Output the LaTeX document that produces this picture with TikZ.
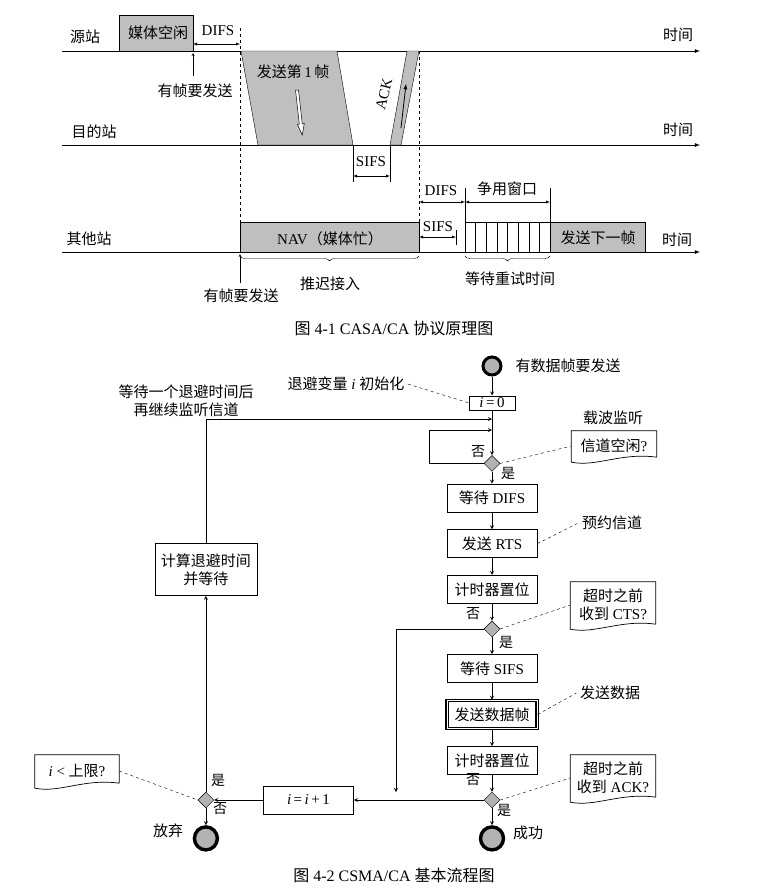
\documentclass[tikz,border=0pt]{standalone}
\usepackage{fontspec}
\setmainfont{Liberation Serif}
\newfontfamily\cjk{Noto Sans CJK SC}
\usepackage{tikz}
\usetikzlibrary{arrows, calc, positioning, shapes, decorations.pathreplacing}

\tikzset{
  axis/.style={-latex, line width=0.8pt},
  busy/.style={draw, fill=black!25},
  span/.style={latex-latex, thin},
  guide/.style={dashed, thin},
  brc/.style={decorate, decoration={brace, mirror, amplitude=5pt}, thin},
  stepbox/.style={draw, line width=0.7pt, minimum width=90pt, minimum height=28pt, inner sep=2pt},
  test/.style={diamond, draw, fill=black!30, minimum size=16pt, inner sep=0pt},
  terminal/.style={circle, draw, line width=3.4pt, fill=black!30, minimum size=23pt, inner sep=0pt},
  memo/.style={minimum width=85pt, align=center, inner sep=2pt},
  tag/.style={font=\fontsize{14}{16}\selectfont\cjk},
  zh/.style={font=\fontsize{15}{18}\selectfont\cjk},
}

% note box with a wavy lower edge
\newcommand{\wavenote}[1]{%
  \draw[line width=0.7pt] ($(#1.south east)+(0pt,4pt)$) -- (#1.north east) -- (#1.north west)
    -- ($(#1.south west)+(0pt,-1pt)$)
    .. controls ($(#1.south west)+(25pt,-6pt)$) and ($(#1.south east)+(-35pt,9pt)$)
    .. ($(#1.south east)+(0pt,4pt)$);}

\begin{document}
\begin{tikzpicture}[x=1pt, y=-1pt, >=stealth, node distance=17pt,
    font=\fontsize{15}{18}\selectfont]
\useasboundingbox (0,0) rectangle (759,892);

% ---- Fig 4-1: timing
\draw[axis] (62,51) -- (700,51);
\draw[axis] (62,145) -- (700,145);
\draw[axis] (62,252) -- (700,252);
\node[zh] (src) at (85,37) {源站};
\node[zh] (dst) at (94,132) {目的站};
\node[zh] (oth) at (89,239) {其他站};
\node[zh] (t1) at (678,35) {时间};
\node[zh] (t2) at (678,130) {时间};
\node[zh] (t3) at (677,240) {时间};

\draw[busy] (119,15) rectangle (193,51);
\node[zh] (idle) at (158,33) {媒体空闲};
\draw[span] (193,44) -- (240,44);
\node (difs1) at (218,31) {DIFS};
\draw[->] (193,76) -- (193,53);
\node[zh] (want1) at (195,91) {有帧要发送};
\draw[guide] (240,28) -- (240,262);

\draw[busy] (241,51) -- (337,51) -- (353,145) -- (258,145) -- cycle;
\node (frame) at (293,72) {{\cjk 发送第}\,1\,{\cjk 帧}};
\draw[fill=white, line width=0.5pt] (295.5,90) -- (298.5,90) -- (302.3,124) -- (304.3,123.5)
  -- (302.2,135) -- (297.5,124.5) -- (299.3,124) -- cycle;
\draw[busy] (390,145) -- (401,145) -- (419,51) -- (407,51) -- cycle;
\draw[-latex, line width=0.8pt] (401,128) -- (406,84);
\node[rotate=76, inner sep=1pt] (ack) at (384,94) {ACK};
\draw[guide] (419,51) -- (419,222);

\draw[thin] (353,145) -- (353,182);
\draw[thin] (390,145) -- (390,182);
\draw[span] (353,176) -- (390,176);
\node (sifs1) at (371,162) {SIFS};

\draw[busy] (240,222) rectangle (419,252);
\node (nav) at (330,239) {NAV{\cjk （媒体忙）}};
\draw[brc] (240,256) -- (419,256);
\node[zh] (defer) at (330,284) {推迟接入};
\draw[->] (240,283) -- (240,254);
\node[zh] (want2) at (241,296) {有帧要发送};

\draw[span] (419,202) -- (465,202);
\node (difs2) at (441,191) {DIFS};
\draw[thin] (465,188) -- (465,222);
\draw[thin] (550,188) -- (550,222);
\draw[span] (465,202) -- (550,202);
\node[zh] (cw) at (507,189) {争用窗口};
\draw[span] (419,237) -- (456,237);
\draw[thin] (456,230) -- (456,245);
\node (sifs2) at (438,227) {SIFS};

\draw (465,222) rectangle (550,252);
\foreach \k in {1,...,7}
  \draw ({465+\k*10.625},222) -- ({465+\k*10.625},252);
\draw[brc] (465,256) -- (550,256);
\node[zh] (retry) at (510,279) {等待重试时间};
\draw[busy] (550,222) rectangle (645,252);
\node[zh] (next) at (598,238) {发送下一帧};

\node (cap1) at (394,328) {\fontsize{16}{18}\selectfont{\cjk 图} 4-1 CASA/CA {\cjk 协议原理图}};

% ---- Fig 4-2: flow chart
\node[terminal, minimum size=18pt, line width=3pt] (start) at (492,366) {};
\node[zh] (startlbl) at (568,366) {有数据帧要发送};
\node[draw, line width=0.7pt, minimum width=46pt, minimum height=14pt, inner sep=1pt,
  below=19pt of start] (init) {{\itshape i}\,=\,0};
\node[test, below=45pt of init] (chk1) {};
\node[stepbox, below=12pt of chk1] (difs) {{\cjk 等待} DIFS};
\node[stepbox, below=of difs] (rts) {{\cjk 发送} RTS};
\node[stepbox, zh, below=of rts] (tmr1) {计时器置位};
\node[test, below=of tmr1] (chk2) {};
\node[stepbox, below=of chk2] (sifs) {{\cjk 等待} SIFS};
\node[stepbox, zh, below=of sifs, double, double distance=1pt, line width=1.3pt] (data) {发送数据帧};
\node[stepbox, zh, below=of data] (tmr2) {计时器置位};
\node[test, below=of tmr2] (chk3) {};
\node[terminal, below=of chk3] (ok) {};
\node[zh] (oklbl) at (528,833) {成功};

\node[stepbox, left=130pt of chk3] (inc) {{\itshape i}\,=\,{\itshape i}\,+\,1};
\node[test, left=49pt of inc] (back) {};
\node[terminal, below=of back] (quit) {};
\node[zh] (quitlbl) at (168,831) {放弃};
\node[stepbox, zh, minimum width=102pt, minimum height=52pt, align=center, above=196pt of back]
  (calc) {计算退避时间\\并等待};
\node[zh, align=center] (waitlbl) at (186,401) {等待一个退避时间后\\再继续监听信道};

\node (initlbl) at (346,384) {{\cjk 退避变量} {\itshape i} {\cjk 初始化}};
\node[zh] (senselbl) at (613,418) {载波监听};
\node[zh] (rsvlbl) at (612,523) {预约信道};
\node[zh] (sendlbl) at (610,693) {发送数据};

\node[memo, minimum height=30pt] (chan) at (614,446) {{\cjk 信道空闲}?};
\node[memo, minimum height=46pt] (cts) at (613,605) {{\cjk 超时之前}\\{\cjk 收到} CTS?};
\node[memo, minimum height=46pt] (ackq) at (613,778) {{\cjk 超时之前}\\{\cjk 收到} ACK?};
\node[memo, minimum width=84pt, minimum height=32pt] (lim) at (77,771) {{\itshape i} < {\cjk 上限}?};
\wavenote{chan}
\wavenote{cts}
\wavenote{ackq}
\wavenote{lim}

\node[tag] (n1) at (478,452) {否};
\node[tag] (y1) at (508,473) {是};
\node[tag] (n2) at (473,614) {否};
\node[tag] (y2) at (506,642) {是};
\node[tag] (n3) at (473,780) {否};
\node[tag] (y3) at (504,810) {是};
\node[tag] (y4) at (218,780) {是};
\node[tag] (n4) at (220,809) {否};

\coordinate (m1) at (492,419);
\coordinate (m2) at (492,430);
\coordinate (j) at (396,792);

\draw[->, thick] (start) -- (init);
\draw[->, thick] (init) -- (chk1);
\draw[->, thick] (chk1.west) -- ++(-54pt,0pt) |- (m2);
\draw[->, thick] (calc.north) |- (m1);
\draw[->, thick] (chk1) -- (difs);
\draw[->, thick] (difs) -- (rts);
\draw[->, thick] (rts) -- (tmr1);
\draw[->, thick] (tmr1) -- (chk2);
\draw[->, thick] (chk2) -- (sifs);
\draw[->, thick] (sifs) -- (data);
\draw[->, thick] (data) -- (tmr2);
\draw[->, thick] (tmr2) -- (chk3);
\draw[->, thick] (chk3) -- (ok);
\draw[->, thick] (chk2.west) -| (j);
\draw[->, thick] (chk3.west) -- (inc.east);
\draw[->, thick] (inc.west) -- (back.east);
\draw[->, thick] (back) -- (quit);
\draw[->, thick] (back) -- (calc.south);

\draw[guide] (initlbl.east) -- (init.west);
\draw[guide] (chk1.east) -- (chan.west);
\draw[guide] (rts.east) -- (rsvlbl.west);
\draw[guide] (chk2.east) -- (cts.west);
\draw[guide] (data.east) -- (sendlbl.west);
\draw[guide] (chk3.east) -- (ackq.west);
\draw[guide] (lim.east) -- (back.west);

\node (cap2) at (394,875) {\fontsize{16}{18}\selectfont{\cjk 图} 4-2 CSMA/CA {\cjk 基本流程图}};
\end{tikzpicture}
\end{document}
